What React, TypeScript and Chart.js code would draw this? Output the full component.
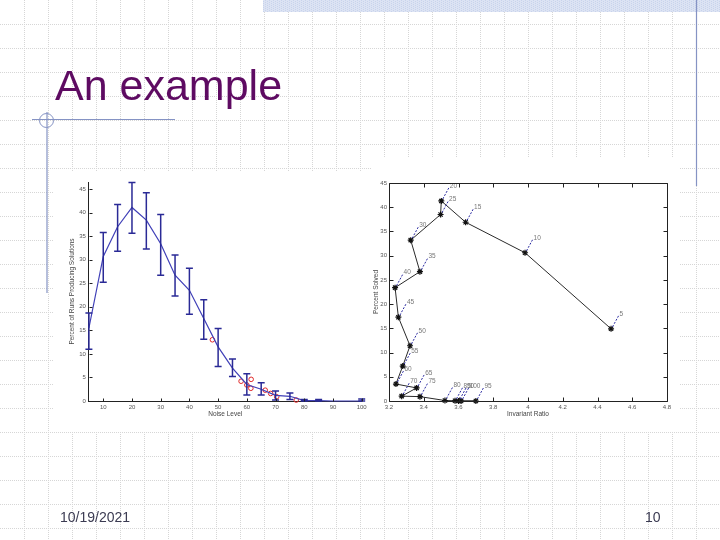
import React, { useEffect, useRef } from "react";
import { Chart, registerables } from "chart.js";

Chart.register(...registerables);

// ---------- data ----------
const noiseLevels = [5, 10, 15, 20, 25, 30, 35, 40, 45, 50, 55, 60, 65, 70, 75, 80, 85, 90, 95, 100];
const meanSolved = [15.5, 30.7, 37.0, 41.1, 38.4, 33.4, 26.7, 23.5, 17.5, 11.5, 7.0, 3.5, 2.5, 1.2, 1.0, 0.1, 0.1, 0, 0, 0];
const upperBar = [18.7, 35.8, 41.7, 46.4, 44.2, 39.6, 31.0, 28.2, 21.5, 15.4, 8.9, 5.8, 3.9, 2.1, 1.7, 0.3, 0.3, 0, 0, 0.4];
const lowerBar = [11.0, 25.2, 31.8, 35.6, 32.3, 26.7, 22.3, 18.4, 13.1, 7.3, 5.2, 1.3, 1.3, 0.2, 0.3, 0, 0, 0, 0, 0];

const redNoise = [48, 58, 61.5, 60, 61.4, 66.4, 68.3, 70.4, 77.2];
const redSolved = [13, 4.2, 4.6, 3.4, 2.7, 2.3, 1.6, 0.9, 0.2];

const invariantRatio = [4.478, 3.983, 3.641, 3.501, 3.497, 3.325, 3.378, 3.235, 3.254, 3.321, 3.279, 3.24, 3.359, 3.273, 3.378, 3.522, 3.58, 3.6, 3.7, 3.615];
const percentSolved = [14.9, 30.6, 36.9, 41.3, 38.5, 33.2, 26.7, 23.4, 17.3, 11.4, 7.2, 3.5, 2.7, 1.0, 0.9, 0.1, 0.05, 0, 0, 0];

const leftXTicks = [10, 20, 30, 40, 50, 60, 70, 80, 90, 100];
const leftYTicks = [0, 5, 10, 15, 20, 25, 30, 35, 40, 45];
const rightXTicks = [3.2, 3.4, 3.6, 3.8, 4, 4.2, 4.4, 4.6, 4.8];
const rightYTicks = [0, 5, 10, 15, 20, 25, 30, 35, 40, 45];

const slideTitle = "An example";
const footerDate = "10/19/2021";
const footerPage = "10";

// ---------- helpers ----------
const FONT = "'Liberation Sans', Arial, Helvetica, sans-serif";
const tickFont = { family: FONT, size: 6 };
const titleFont = { family: FONT, size: 6.5 };
const TICK_COLOR = "#555";

function fixedTicks(values: number[]) {
  return (scale: any) => {
    scale.ticks = values.map((v) => ({ value: v }));
  };
}

function innerTicks(id: string, box: boolean, len: number, color: string) {
  return {
    id,
    afterDraw(chart: any) {
      const { ctx, chartArea: a, scales } = chart;
      const xs = scales.x;
      const ys = scales.y;
      const L = Math.round(a.left) + 0.5;
      const R = Math.round(a.right) + 0.5;
      const T = Math.round(a.top) + 0.5;
      const B = Math.round(a.bottom) + 0.5;
      ctx.save();
      ctx.strokeStyle = color;
      ctx.lineWidth = 1;
      ctx.beginPath();
      if (box) {
        ctx.rect(L, T, R - L, B - T);
      }
      xs.ticks.forEach((t: any) => {
        const x = Math.round(xs.getPixelForValue(t.value)) + 0.5;
        ctx.moveTo(x, B);
        ctx.lineTo(x, B - len);
        if (box) {
          ctx.moveTo(x, T);
          ctx.lineTo(x, T + len);
        }
      });
      ys.ticks.forEach((t: any) => {
        const y = Math.round(ys.getPixelForValue(t.value)) + 0.5;
        ctx.moveTo(L, y);
        ctx.lineTo(L + len, y);
        if (box) {
          ctx.moveTo(R, y);
          ctx.lineTo(R - len, y);
        }
      });
      ctx.stroke();
      ctx.restore();
    },
  };
}

const errorBarPlugin = {
  id: "errorBars",
  afterDatasetsDraw(chart: any) {
    const { ctx, scales } = chart;
    const xs = scales.x;
    const ys = scales.y;
    ctx.save();
    ctx.strokeStyle = "#2a2a96";
    ctx.lineWidth = 1.5;
    noiseLevels.forEach((n, i) => {
      if (upperBar[i] === lowerBar[i]) return;
      const x = xs.getPixelForValue(n);
      const yt = ys.getPixelForValue(upperBar[i]);
      const yb = ys.getPixelForValue(lowerBar[i]);
      ctx.beginPath();
      ctx.moveTo(x, yt);
      ctx.lineTo(x, yb);
      ctx.moveTo(x - 3.5, yt);
      ctx.lineTo(x + 3.5, yt);
      ctx.moveTo(x - 3.5, yb);
      ctx.lineTo(x + 3.5, yb);
      ctx.stroke();
    });
    ctx.restore();
  },
};

const leaderPlugin = {
  id: "leaders",
  afterDatasetsDraw(chart: any) {
    const { ctx } = chart;
    const meta = chart.getDatasetMeta(0);
    ctx.save();
    ctx.font = `6.5px ${FONT}`;
    ctx.textAlign = "left";
    ctx.textBaseline = "middle";
    meta.data.forEach((pt: any, i: number) => {
      const px = pt.x;
      const py = pt.y;
      ctx.strokeStyle = "#2a2aa0";
      ctx.lineWidth = 1;
      ctx.setLineDash([2, 1.5]);
      ctx.beginPath();
      ctx.moveTo(px + 1.5, py - 2);
      ctx.lineTo(px + 7.5, py - 13);
      ctx.stroke();
      ctx.setLineDash([]);
      ctx.fillStyle = "#777";
      ctx.fillText(String(noiseLevels[i]), px + 8.5, py - 15);
    });
    ctx.restore();
  },
};

// ---------- charts ----------
function LeftChart() {
  const ref = useRef<HTMLCanvasElement>(null);
  useEffect(() => {
    const chart = new Chart(ref.current!, {
      type: "line",
      data: {
        datasets: [
          {
            data: noiseLevels.map((n, i) => ({ x: n, y: meanSolved[i] })),
            borderColor: "#4040b8",
            borderWidth: 1.2,
            pointRadius: 0,
            tension: 0,
            clip: false as any,
          },
          {
            data: redNoise.map((n, i) => ({ x: n, y: redSolved[i] })),
            showLine: false,
            pointRadius: 2.3,
            pointBorderColor: "#e02828",
            pointBackgroundColor: "rgba(0,0,0,0)",
            pointBorderWidth: 1,
            clip: false as any,
          },
        ],
      },
      options: {
        responsive: false,
        animation: false,
        devicePixelRatio: 1,
        layout: { padding: { left: 0, right: 10.3, top: 10, bottom: 0 } },
        plugins: { legend: { display: false }, tooltip: { enabled: false } },
        scales: {
          x: {
            type: "linear",
            min: 5,
            max: 100,
            afterBuildTicks: fixedTicks(leftXTicks),
            afterFit: (s: any) => {
              s.height = 31;
            },
            grid: { display: false, drawTicks: false },
            border: { display: true, color: "#222", width: 1 },
            ticks: { font: tickFont, color: TICK_COLOR, padding: 3, maxRotation: 0, autoSkip: false },
            title: { display: true, text: "Noise Level", font: titleFont, color: "#444", padding: { top: 0, bottom: 14 } },
          },
          y: {
            type: "linear",
            min: 0,
            max: 46.5,
            afterBuildTicks: fixedTicks(leftYTicks),
            afterFit: (s: any) => {
              s.width = 35.9;
            },
            grid: { display: false, drawTicks: false },
            border: { display: true, color: "#222", width: 1 },
            ticks: { font: tickFont, color: TICK_COLOR, padding: 3, autoSkip: false },
            title: {
              display: true,
              text: "Percent of Runs Producing Solutions",
              font: titleFont,
              color: "#444",
              padding: { top: 15, bottom: 0 },
            },
          },
        },
      },
      plugins: [errorBarPlugin, innerTicks("leftTicks", false, 3, "#222")],
    } as any);
    return () => chart.destroy();
  }, []);
  return (
    <canvas
      ref={ref}
      width={319}
      height={260}
      style={{ position: "absolute", left: 53, top: 172, width: 319, height: 260, background: "#fff" }}
    />
  );
}

function RightChart() {
  const ref = useRef<HTMLCanvasElement>(null);
  useEffect(() => {
    const chart = new Chart(ref.current!, {
      type: "line",
      data: {
        datasets: [
          {
            data: invariantRatio.map((r, i) => ({ x: r, y: percentSolved[i] })),
            borderColor: "#2a2a2a",
            borderWidth: 1,
            pointStyle: "star",
            pointRadius: 3,
            pointBorderColor: "#111",
            pointBackgroundColor: "#111",
            pointBorderWidth: 1.2,
            tension: 0,
            clip: false as any,
          },
        ],
      },
      options: {
        responsive: false,
        animation: false,
        devicePixelRatio: 1,
        layout: { padding: { left: 0, right: 13, top: 25, bottom: 0 } },
        plugins: { legend: { display: false }, tooltip: { enabled: false } },
        scales: {
          x: {
            type: "linear",
            min: 3.2,
            max: 4.8,
            afterBuildTicks: fixedTicks(rightXTicks),
            afterFit: (s: any) => {
              s.height = 31;
            },
            grid: { display: false, drawTicks: false },
            border: { display: false },
            ticks: {
              font: tickFont,
              color: TICK_COLOR,
              padding: 3,
              maxRotation: 0,
              autoSkip: false,
              callback: (v: any) => String(v),
            },
            title: { display: true, text: "Invariant Ratio", font: titleFont, color: "#444", padding: { top: 0, bottom: 14 } },
          },
          y: {
            type: "linear",
            min: 0,
            max: 45,
            afterBuildTicks: fixedTicks(rightYTicks),
            afterFit: (s: any) => {
              s.width = 17;
            },
            grid: { display: false, drawTicks: false },
            border: { display: false },
            ticks: { font: tickFont, color: TICK_COLOR, padding: 2, autoSkip: false },
            title: { display: true, text: "Percent Solved", font: titleFont, color: "#444", padding: { top: 0, bottom: 0 } },
          },
        },
      },
      plugins: [leaderPlugin, innerTicks("rightTicks", true, 4, "#222")],
    } as any);
    return () => chart.destroy();
  }, []);
  return (
    <canvas
      ref={ref}
      width={308}
      height={274}
      style={{ position: "absolute", left: 372, top: 158, width: 308, height: 274, background: "#fff" }}
    />
  );
}

function SlideBackground() {
  const ref = useRef<HTMLCanvasElement>(null);
  useEffect(() => {
    const c = ref.current!;
    const ctx = c.getContext("2d")!;
    ctx.clearRect(0, 0, 720, 540);
    ctx.fillStyle = "#fff";
    ctx.fillRect(0, 0, 720, 540);
    // dotted grid
    ctx.strokeStyle = "#d6d6d6";
    ctx.lineWidth = 1;
    ctx.setLineDash([1, 1]);
    ctx.beginPath();
    for (let x = 24; x < 720; x += 24) {
      ctx.moveTo(x + 0.5, 0);
      ctx.lineTo(x + 0.5, 540);
    }
    for (let y = 24; y < 540; y += 24) {
      ctx.moveTo(0, y + 0.5);
      ctx.lineTo(720, y + 0.5);
    }
    ctx.stroke();
    ctx.setLineDash([]);
    // hatched top bar
    ctx.fillStyle = "#dce3f3";
    ctx.fillRect(263, 0, 457, 12);
    ctx.fillStyle = "#c8d3ec";
    for (let x = 263; x < 720; x += 2) {
      for (let y = (x % 4 === 1 ? 0 : 1); y < 12; y += 2) {
        ctx.fillRect(x, y, 1, 1);
      }
    }
    // decorative lines
    ctx.strokeStyle = "#8593c4";
    ctx.lineWidth = 1.2;
    ctx.beginPath();
    ctx.moveTo(696.5, 0);
    ctx.lineTo(696.5, 186);
    ctx.moveTo(32, 119.5);
    ctx.lineTo(175, 119.5);
    ctx.moveTo(47, 112);
    ctx.lineTo(47, 293);
    ctx.stroke();
    ctx.lineWidth = 1;
    ctx.beginPath();
    ctx.arc(46.5, 120.5, 7, 0, Math.PI * 2);
    ctx.stroke();
  }, []);
  return <canvas ref={ref} width={720} height={540} style={{ position: "absolute", left: 0, top: 0 }} />;
}

export default function App() {
  return (
    <div
      style={{
        position: "absolute",
        left: 0,
        top: 0,
        width: 720,
        height: 540,
        overflow: "hidden",
        background: "#fff",
      }}
    >
      <SlideBackground />
      <div
        style={{
          position: "absolute",
          left: 55,
          top: 64,
          fontFamily: FONT,
          fontSize: 43,
          lineHeight: "43px",
          color: "#5e0b62",
          whiteSpace: "nowrap",
        }}
      >
        {slideTitle}
      </div>
      <LeftChart />
      <RightChart />
      <div
        style={{
          position: "absolute",
          left: 60,
          top: 510,
          fontFamily: FONT,
          fontSize: 14,
          lineHeight: "14px",
          color: "#3b3b52",
        }}
      >
        {footerDate}
      </div>
      <div
        style={{
          position: "absolute",
          left: 645,
          top: 510,
          fontFamily: FONT,
          fontSize: 14,
          lineHeight: "14px",
          color: "#3b3b52",
        }}
      >
        {footerPage}
      </div>
    </div>
  );
}
